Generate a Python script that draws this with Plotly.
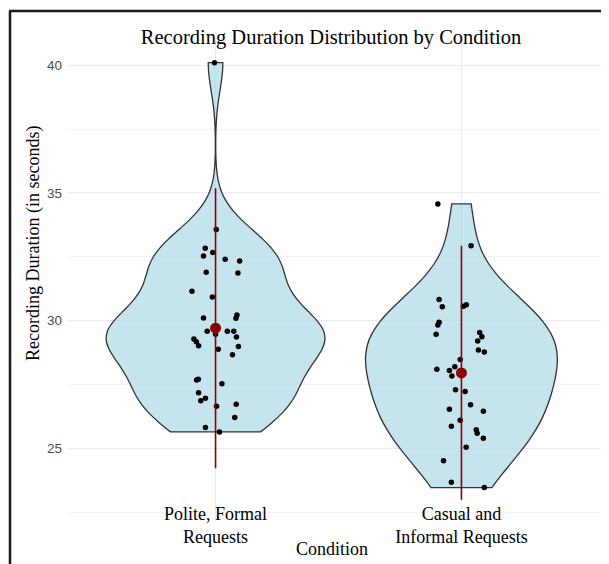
import numpy as np
import plotly.graph_objects as go

# ---------------- data ----------------
categories = ["Polite, Formal<br>Requests", "Casual and<br>Informal Requests"]

polite_values = [32.83, 32.67, 32.53, 32.40, 32.33, 31.89, 31.86, 31.15, 30.92,
                 30.22, 30.09, 30.10, 29.58, 29.58, 29.58, 29.46, 29.36, 29.28,
                 29.17, 29.01, 28.98, 28.88, 28.66, 27.70, 27.67, 27.53, 27.17,
                 26.96, 26.86, 26.64, 26.72, 26.20, 25.81, 25.64, 40.10, 33.57]
polite_jitter = [-0.042, -0.011, -0.049, 0.039, 0.098, -0.038, 0.091, -0.096, -0.013,
                 0.087, 0.083, -0.049, -0.034, 0.048, 0.074, 0.000, 0.085, -0.088,
                 -0.078, -0.069, 0.093, 0.011, 0.069, -0.070, -0.077, 0.026, -0.069,
                 -0.041, -0.060, 0.004, 0.084, 0.078, -0.041, 0.016, -0.004, 0.003]

casual_values = [34.57, 32.93, 30.83, 30.54, 30.56, 30.62, 29.93, 29.83, 29.46,
                 29.53, 29.37, 29.20, 28.85, 28.77, 28.48, 28.19, 28.09, 28.04,
                 27.83, 27.29, 27.22, 26.70, 26.53, 26.45, 26.10, 25.86, 25.72,
                 25.59, 25.39, 25.04, 24.51, 23.67, 23.46]
casual_jitter = [-0.096, 0.039, -0.091, -0.078, 0.008, 0.020, -0.091, -0.096, -0.103,
                 0.074, 0.083, 0.066, 0.069, 0.093, -0.005, -0.027, -0.100, -0.049,
                 -0.039, -0.024, 0.015, 0.037, -0.049, 0.089, -0.005, -0.041, 0.060,
                 0.064, 0.089, 0.019, -0.073, -0.041, 0.093]

# summary (mean and mean +/- 2 SD) as drawn in the reference
summary_mean = [29.70, 27.95]
summary_low = [24.22, 22.98]
summary_high = [35.18, 32.93]

y_ticks = [25, 30, 35, 40]

# ---------------- layout geometry ----------------
# the page body has an 8px margin, so the figure starts at (8, 8) in the window
OFF = 8
W, H = 609 - OFF, 564 - OFF
ML, MR, MT, MB = 68 - OFF, 0, 40 - OFF, 564 - 522
PW, PH = W - ML - MR, H - MT - MB


def px_x(p):
    """page pixel x -> paper coordinate"""
    return (p - OFF - ML) / PW


def px_y(p):
    """page pixel y -> paper coordinate"""
    return (H - MB - (p - OFF)) / PH


def nrd0(v):
    v = np.asarray(v, dtype=float)
    sd = v.std(ddof=1)
    iqr = np.percentile(v, 75) - np.percentile(v, 25)
    lo = min(sd, iqr / 1.34)
    return 0.9 * lo * len(v) ** (-0.2)


fill = "rgba(173,216,230,0.7)"
outline = "#333333"
red = "#8B0000"

fig = go.Figure()

# (values, jitter, violin width, bandwidth adjust)
groups = [(polite_values, polite_jitter, 0.89, 0.9),
          (casual_values, casual_jitter, 0.78, 1.25)]
for i, (vals, jit, w, adj) in enumerate(groups):
    pos = i + 1
    fig.add_trace(go.Violin(
        y=vals, x0=pos, width=w, bandwidth=nrd0(vals) * adj, spanmode="hard",
        fillcolor=fill, line=dict(color=outline, width=1.3),
        points=False, box_visible=False, meanline_visible=False,
        showlegend=False, hoverinfo="skip",
    ))

for i, (vals, jit, w, adj) in enumerate(groups):
    pos = i + 1
    fig.add_trace(go.Scatter(
        x=[pos + j for j in jit], y=vals, mode="markers",
        marker=dict(color="black", size=5.5), showlegend=False, hoverinfo="skip",
    ))

for i in range(2):
    pos = i + 1
    fig.add_trace(go.Scatter(
        x=[pos, pos], y=[summary_low[i], summary_high[i]], mode="lines",
        line=dict(color=red, width=1.6), showlegend=False, hoverinfo="skip",
    ))
fig.add_trace(go.Scatter(
    x=[1, 2], y=summary_mean, mode="markers",
    marker=dict(color=red, size=11), showlegend=False, hoverinfo="skip",
))

fig.update_layout(
    width=W, height=H,
    margin=dict(l=ML, r=MR, t=MT, b=MB),
    paper_bgcolor="white", plot_bgcolor="white",
    title=dict(text="Recording Duration Distribution by Condition",
               x=(331 - OFF) / W, xanchor="center", y=1 - (37 - OFF) / H, yanchor="middle",
               font=dict(family="Liberation Serif", size=20.5, color="black")),
    xaxis=dict(range=[0.4, 2.6], tickmode="array", tickvals=[1, 2], ticktext=categories,
               showgrid=True, gridcolor="#EBEBEB", gridwidth=1, zeroline=False,
               showline=False, ticks="", ticklabelstandoff=-21,
               tickfont=dict(family="Liberation Serif", size=18, color="black")),
    yaxis=dict(range=[22.11, 40.99], tickmode="array", tickvals=y_ticks,
               showgrid=True, gridcolor="#EBEBEB", gridwidth=1, zeroline=False,
               showline=False, ticks="", ticklabelstandoff=5,
               minor=dict(dtick=2.5, tick0=0, showgrid=True, gridcolor="#F3F3F3", gridwidth=1),
               tickfont=dict(family="Liberation Sans", size=13.5, color="#4D4D4D")),
    violinmode="overlay",
    annotations=[
        dict(text="Condition", xref="paper", yref="paper", x=px_x(332), y=px_y(549),
             xanchor="center", yanchor="middle", showarrow=False,
             font=dict(family="Liberation Serif", size=18, color="black")),
        dict(text="Recording Duration (in seconds)", xref="paper", yref="paper",
             x=px_x(33), y=px_y(244), xanchor="center", yanchor="middle",
             textangle=-90, showarrow=False,
             font=dict(family="Liberation Serif", size=18, color="black")),
    ],
    shapes=[
        dict(type="line", xref="paper", yref="paper", x0=px_x(10), x1=px_x(10),
             y0=px_y(11), y1=px_y(570), line=dict(color="#1a1a1a", width=2.5)),
        dict(type="line", xref="paper", yref="paper", x0=px_x(9), x1=px_x(615),
             y0=px_y(11), y1=px_y(11), line=dict(color="#1a1a1a", width=2.5)),
    ],
)

fig.write_html("out.html")
